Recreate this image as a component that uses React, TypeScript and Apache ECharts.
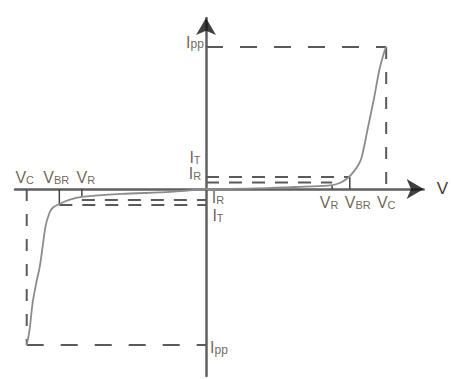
import React, { useEffect, useRef } from "react";
import * as echarts from "echarts";

// Normalised characteristic values (V in units of +Vc, I in units of +Ipp)
const VC_POS = 1.0;
const VBR_POS = 0.798;
const VR_POS = 0.7;
const VC_NEG = -0.995;
const VBR_NEG = -0.814;
const VR_NEG = -0.689;
const IPP_POS = 1.0;
const IT_POS = 0.085;
const IR_POS = 0.046;
const IPP_NEG = -1.099;
const IT_NEG = -0.113;
const IR_NEG = -0.077;

// I-V curve, forward (right) branch
const curveRightV = [0, 0.279, 0.497, 0.678, 0.743, 0.787, 0.814, 0.842, 0.863, 0.896, 0.934, 0.962, 0.989, 1.0];
const curveRightI = [0, 0.004, 0.014, 0.023, 0.042, 0.077, 0.113, 0.162, 0.218, 0.415, 0.648, 0.838, 0.965, 1.0];
// I-V curve, reverse (left) branch
const curveLeftV = [-0.995, -0.98, -0.962, -0.94, -0.923, -0.907, -0.89, -0.869, -0.852, -0.814, -0.76, -0.689, -0.47, -0.197, 0];
const curveLeftI = [-1.099, -1.0, -0.8, -0.65, -0.55, -0.41, -0.26, -0.169, -0.134, -0.106, -0.077, -0.056, -0.035, -0.021, 0];

// Axis ranges
const X_MIN = -1.06;
const X_MAX = 1.208;
const Y_MIN = -1.317;
const Y_MAX = 1.204;

const TEXT = "#4d3b30";
const FONT = "Liberation Sans";

type Lbl = { text: string; v: number; i: number; dx: number; dy: number };
const labels: Lbl[] = [
  { text: "{m|V}{s|C}", v: VC_NEG, i: 0, dx: -2, dy: -10 },
  { text: "{m|V}{s|BR}", v: VBR_NEG, i: 0, dx: -3, dy: -10 },
  { text: "{m|V}{s|R}", v: VR_NEG, i: 0, dx: 4, dy: -10 },
  { text: "{m|V}{s|R}", v: VR_POS, i: 0, dx: -3, dy: 15 },
  { text: "{m|V}{s|BR}", v: VBR_POS, i: 0, dx: 8, dy: 15 },
  { text: "{m|V}{s|C}", v: VC_POS, i: 0, dx: 0, dy: 15 },
  { text: "{m|I}{s|T}", v: 0, i: IT_POS, dx: -11, dy: -18 },
  { text: "{m|I}{s|R}", v: 0, i: IR_POS, dx: -11, dy: -7 },
  { text: "{m|I}{s|R}", v: 0, i: IR_NEG, dx: 12, dy: -1 },
  { text: "{m|I}{s|T}", v: 0, i: IT_NEG, dx: 12, dy: 12 },
  { text: "{m|I}{p|pp}", v: 0, i: IPP_POS, dx: -11, dy: -3 },
  { text: "{m|I}{p|pp}", v: 0, i: IPP_NEG, dx: 13, dy: 4 },
];

const zip = (a: number[], b: number[]) => a.map((x, k) => [x, b[k]]);

function seg(pts: number[][], dash: number[] | "solid", color: string, width: number) {
  return {
    type: "line",
    data: pts,
    symbol: "none",
    silent: true,
    lineStyle: { color, width, type: dash },
    z: 3,
  };
}

export default function App() {
  const ref = useRef<HTMLDivElement>(null);
  useEffect(() => {
    document.body.style.margin = "0";
    if (!ref.current) return;
    const chart = echarts.init(ref.current, undefined, { renderer: "svg" });
    const dashH = [17, 17];
    const dashV = [12, 13];
    const dashS = [13, 10];
    const dashColor = "#5a5a5a";
    const rich = {
      m: { fontSize: 16, fontFamily: FONT, color: TEXT, verticalAlign: "bottom", lineHeight: 13 },
      s: { fontSize: 11, fontFamily: FONT, color: TEXT, verticalAlign: "bottom", lineHeight: 13 },
      p: { fontSize: 12, fontFamily: FONT, color: TEXT, verticalAlign: "bottom", lineHeight: 13 },
    };
    chart.setOption({
      animation: false,
      backgroundColor: "#ffffff",
      grid: { left: 15, right: 21, top: 18, bottom: 3 },
      xAxis: {
        type: "value",
        min: X_MIN,
        max: X_MAX,
        name: "V",
        nameLocation: "end",
        nameGap: 13,
        nameTextStyle: { fontSize: 17, fontFamily: FONT, color: TEXT, verticalAlign: "middle" },
        axisLine: { show: true, onZero: true, lineStyle: { color: "#606060", width: 2.5 } },
        axisTick: { show: false },
        axisLabel: { show: false },
        splitLine: { show: false },
      },
      yAxis: {
        type: "value",
        min: Y_MIN,
        max: Y_MAX,
        axisLine: { show: true, onZero: true, lineStyle: { color: "#606060", width: 2.5 } },
        axisTick: { show: false },
        axisLabel: { show: false },
        splitLine: { show: false },
      },
      series: [
        // dashed guide lines
        seg([[0, IPP_POS], [VC_POS, IPP_POS]], dashH, dashColor, 2),
        seg([[VC_POS, IPP_POS], [VC_POS, 0]], dashV, dashColor, 2),
        seg([[0, IT_POS], [VBR_POS, IT_POS]], dashS, dashColor, 2),
        seg([[0, IR_POS], [VR_POS, IR_POS]], dashS, dashColor, 2),
        seg([[VC_NEG, 0], [VC_NEG, IPP_NEG]], dashV, dashColor, 2),
        seg([[VC_NEG, IPP_NEG], [0, IPP_NEG]], dashH, dashColor, 2),
        seg([[VR_NEG, IR_NEG], [0, IR_NEG]], dashS, dashColor, 2),
        seg([[VBR_NEG, IT_NEG], [0, IT_NEG]], dashS, dashColor, 2),
        // short solid marks at VR / VBR
        seg([[VR_POS, 0], [VR_POS, 0.023]], "solid", "#444", 1.5),
        seg([[VBR_POS, 0], [VBR_POS, IT_POS]], "solid", "#444", 1.5),
        seg([[VR_NEG, 0], [VR_NEG, -0.056]], "solid", "#444", 1.5),
        seg([[VBR_NEG, 0], [VBR_NEG, IT_NEG]], "solid", "#444", 1.5),
        // I-V curve
        {
          type: "line",
          data: zip(curveRightV, curveRightI),
          symbol: "none",
          smooth: 0.3,
          silent: true,
          lineStyle: { color: "#8c8c8c", width: 1.8 },
          z: 4,
        },
        {
          type: "line",
          data: zip(curveLeftV, curveLeftI),
          symbol: "none",
          smooth: 0.3,
          silent: true,
          lineStyle: { color: "#8c8c8c", width: 1.8 },
          z: 4,
        },
        // arrow heads
        {
          type: "scatter",
          data: [[X_MAX, 0]],
          symbol: "arrow",
          symbolRotate: -90,
          symbolSize: [15, 17],
          clip: false,
          silent: true,
          itemStyle: { color: "#111" },
          z: 5,
        },
        {
          type: "scatter",
          data: [[0, Y_MAX]],
          symbol: "arrow",
          symbolSize: [15, 17],
          clip: false,
          silent: true,
          itemStyle: { color: "#111" },
          z: 5,
        },
        // labels
        {
          type: "scatter",
          symbolSize: 0,
          clip: false,
          silent: true,
          z: 6,
          data: labels.map((l) => ({
            value: [l.v, l.i],
            label: {
              show: true,
              position: "inside",
              formatter: l.text,
              offset: [l.dx, l.dy],
              align: "center",
              verticalAlign: "middle",
              rich,
            },
          })),
        },
      ],
    });
    return () => chart.dispose();
  }, []);
  return <div ref={ref} style={{ width: 451, height: 379 }} />;
}
